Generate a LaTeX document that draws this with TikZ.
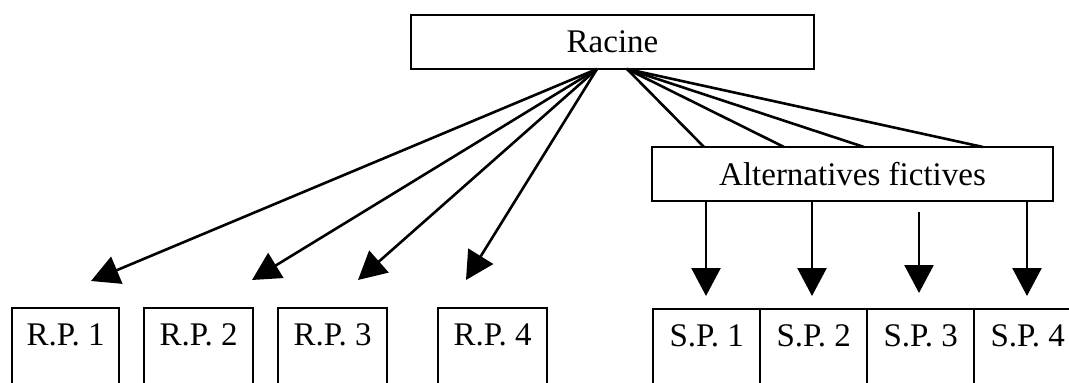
\documentclass[tikz,border=0pt]{standalone}
\usepackage{fontspec}
\setmainfont{Liberation Serif}
\usetikzlibrary{arrows.meta}
\begin{document}
\begin{tikzpicture}[x=1pt,y=-1pt,
  every node/.style={font=\fontsize{33}{40}\selectfont},
  topbox/.style={draw,line width=2.4pt,minimum height=54pt,inner sep=0pt},
  leafbox/.style={draw,line width=2.4pt,anchor=north west,minimum width=#1,
    text height=37pt,text depth=80pt,inner xsep=0pt,inner ysep=0pt},
  link/.style={line width=2.6pt},
  arr/.style={line width=2.6pt,-{Triangle[length=28pt,width=29pt]}}]
\useasboundingbox (0,0) rectangle (1069,383);
\clip (0,0) rectangle (1069,383);
\fill[white] (0,0) rectangle (1069,383);
% top boxes
\node[topbox,minimum width=403pt] (root) at (612.5,42) {Racine};
\node[topbox,minimum width=401pt] (alt) at (852.5,174) {Alternatives fictives};
% R.P. boxes
\node[leafbox=107pt] (rp1) at (11,307) {R.P. 1};
\node[leafbox=109pt] (rp2) at (143,307) {R.P. 2};
\node[leafbox=109pt] (rp3) at (277,307) {R.P. 3};
\node[leafbox=109pt] (rp4) at (437,307) {R.P. 4};
% S.P. boxes
\node[leafbox=107pt] (sp1) at (652,308) {S.P. 1};
\node[leafbox=107pt] (sp2) at (759,308) {S.P. 2};
\node[leafbox=107pt] (sp3) at (866,308) {S.P. 3};
\node[leafbox=107pt] (sp4) at (973,308) {S.P. 4};
% coordinates
\coordinate (la) at (597,69);
\coordinate (ra) at (627,69);
\coordinate (t1) at (91,281);
\coordinate (t2) at (252,280);
\coordinate (t3) at (358,280);
\coordinate (t4) at (466,280);
\coordinate (e1) at (704,147);
\coordinate (e2) at (784,147);
\coordinate (e3) at (864,147);
\coordinate (e4) at (983,147);
\coordinate (s1) at (706,201);
\coordinate (s2) at (812,201);
\coordinate (s3) at (919,212);
\coordinate (s4) at (1027,201);
\coordinate (d1) at (706,296);
\coordinate (d2) at (812,296);
\coordinate (d3) at (919,293);
\coordinate (d4) at (1027,296);
% connectors
\foreach \t in {t1,t2,t3,t4} \draw[arr] (la) -- (\t);
\foreach \e in {e1,e2,e3,e4} \draw[link] (ra) -- (\e);
\foreach \i in {1,2,3,4} \draw[arr] (s\i) -- (d\i);
\end{tikzpicture}
\end{document}
